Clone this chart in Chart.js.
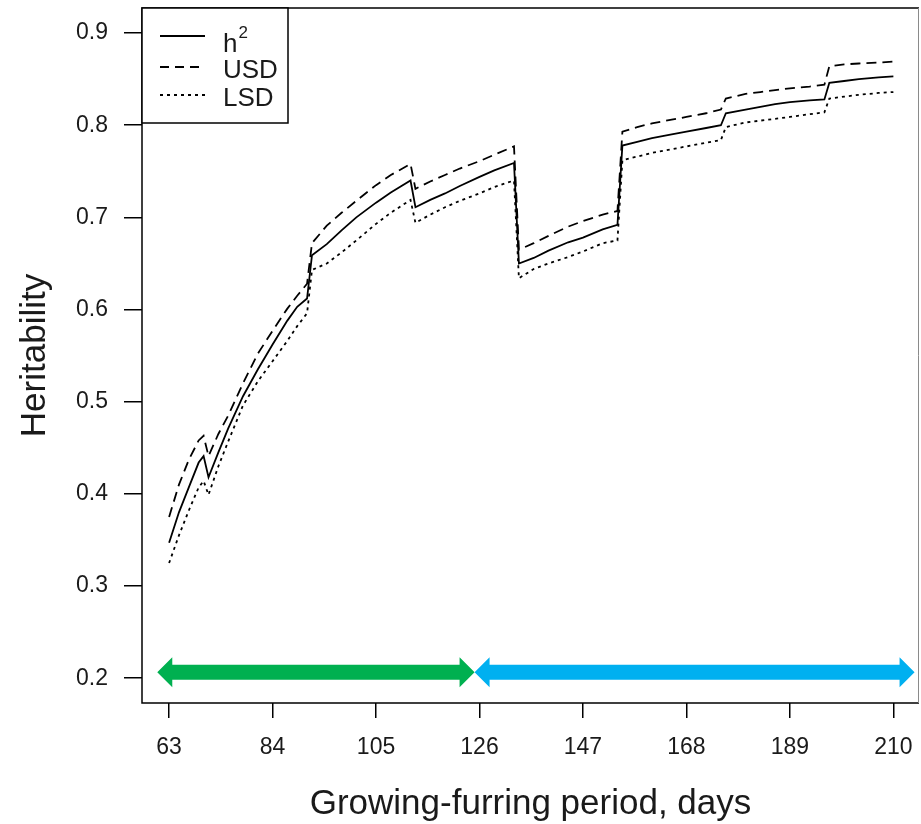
<!DOCTYPE html>
<html>
<head>
<meta charset="utf-8">
<script src="https://cdn.jsdelivr.net/npm/chart.js@4.4.0/dist/chart.umd.min.js"></script>
<style>
  html, body { margin: 0; padding: 0; background: #ffffff; }
  canvas { display: block; }
</style>
</head>
<body>
<canvas id="c" width="921" height="824"></canvas>
<script>
// ---- data ----
const days = [63,65,67,69,70,71,73,75,78,81,84,87,89,91,92,95,98,101,105,108,112,113,116,119,122,126,129,133,134,137,140,144,147,151,154,155,158,161,165,168,172,175,176,180,183,186,189,193,196,197,200,203,207,210];
const h2 = [0.347,0.380,0.407,0.434,0.441,0.418,0.445,0.471,0.506,0.535,0.562,0.588,0.603,0.612,0.659,0.671,0.686,0.700,0.716,0.727,0.740,0.711,0.719,0.726,0.734,0.744,0.751,0.759,0.650,0.656,0.664,0.673,0.678,0.687,0.692,0.778,0.782,0.786,0.790,0.793,0.797,0.800,0.813,0.817,0.820,0.823,0.825,0.827,0.828,0.846,0.848,0.850,0.852,0.853];
const usd = [0.375,0.410,0.437,0.458,0.463,0.441,0.465,0.485,0.520,0.552,0.577,0.601,0.615,0.628,0.672,0.691,0.705,0.718,0.735,0.746,0.758,0.731,0.739,0.746,0.753,0.761,0.768,0.777,0.665,0.672,0.680,0.690,0.696,0.703,0.707,0.793,0.798,0.802,0.806,0.809,0.813,0.817,0.829,0.834,0.836,0.838,0.840,0.842,0.844,0.864,0.866,0.867,0.868,0.869];
const lsd = [0.325,0.355,0.382,0.407,0.414,0.399,0.430,0.457,0.496,0.522,0.544,0.566,0.582,0.596,0.643,0.650,0.662,0.675,0.693,0.705,0.719,0.694,0.703,0.711,0.718,0.726,0.733,0.740,0.634,0.644,0.650,0.657,0.663,0.672,0.675,0.762,0.766,0.770,0.774,0.777,0.781,0.784,0.798,0.803,0.805,0.807,0.809,0.812,0.814,0.829,0.831,0.833,0.835,0.836];
const xTicks = [63,84,105,126,147,168,189,210];
const yTicks = [0.2,0.3,0.4,0.5,0.6,0.7,0.8,0.9];
const seriesNames = ["h", "USD", "LSD"];
const xTitle = "Growing-furring period, days";
const yTitle = "Heritability";
// arrows along the bottom: [from day, to day, level]
const greenArrow = [60.6, 125.0, 0.2065];
const blueArrow = [125.0, 214.3, 0.2065];

const toPts = arr => days.map((d, i) => ({x: d, y: arr[i]}));
const FONT = "'Liberation Sans', Arial, sans-serif";
const INK = "#1a1a1a";

const noPad = s => { s.paddingTop = 0; s.paddingBottom = 0; s.paddingLeft = 0; s.paddingRight = 0; };

const boxPlugin = {
  id: "box",
  afterDatasetsDraw(chart) {
    const ctx = chart.ctx;
    const xs = chart.scales.x, ys = chart.scales.y;
    const drawArrow = (arr, color) => {
      const x1 = xs.getPixelForValue(arr[0]), x2 = xs.getPixelForValue(arr[1]);
      const y = ys.getPixelForValue(arr[2]);
      const hl = 15, hh = 15, sh = 7.5;
      ctx.save();
      ctx.fillStyle = color;
      ctx.beginPath();
      ctx.moveTo(x1, y);
      ctx.lineTo(x1 + hl, y - hh);
      ctx.lineTo(x1 + hl, y - sh);
      ctx.lineTo(x2 - hl, y - sh);
      ctx.lineTo(x2 - hl, y - hh);
      ctx.lineTo(x2, y);
      ctx.lineTo(x2 - hl, y + hh);
      ctx.lineTo(x2 - hl, y + sh);
      ctx.lineTo(x1 + hl, y + sh);
      ctx.lineTo(x1 + hl, y + hh);
      ctx.closePath();
      ctx.fill();
      ctx.restore();
    };
    drawArrow(greenArrow, "#00B050");
    drawArrow(blueArrow, "#00B0F0");
  },
  afterDraw(chart) {
    const ctx = chart.ctx, a = chart.chartArea;
    ctx.save();
    ctx.strokeStyle = "#000";
    ctx.lineWidth = 1.5;
    ctx.beginPath();
    ctx.moveTo(a.right, a.top);
    ctx.lineTo(a.left, a.top);
    ctx.lineTo(a.left, a.bottom);
    ctx.lineTo(a.right, a.bottom);
    ctx.stroke();
    ctx.strokeStyle = "#8a8a8a";
    ctx.lineWidth = 1;
    ctx.beginPath();
    ctx.moveTo(a.right - 0.5, a.top);
    ctx.lineTo(a.right - 0.5, a.bottom);
    ctx.stroke();
    // legend
    const lx = a.left, ly = a.top, lw = 146, lh = 115;
    ctx.fillStyle = "#fff";
    ctx.fillRect(lx, ly, lw, lh);
    ctx.strokeStyle = "#000";
    ctx.lineWidth = 1.5;
    ctx.strokeRect(lx, ly, lw, lh);
    const rows = [
      {y: 36, dash: [], name: seriesNames[0], base: 52},
      {y: 67, dash: [9, 6], name: seriesNames[1], base: 78},
      {y: 95, dash: [3, 4], name: seriesNames[2], base: 106}
    ];
    rows.forEach((r, i) => {
      ctx.setLineDash(r.dash);
      ctx.lineWidth = 1.8;
      ctx.beginPath();
      ctx.moveTo(lx + 18, r.y);
      ctx.lineTo(lx + 63, r.y);
      ctx.stroke();
      ctx.setLineDash([]);
      ctx.fillStyle = INK;
      ctx.textAlign = "left";
      ctx.textBaseline = "alphabetic";
      ctx.font = "26px " + FONT;
      ctx.fillText(r.name, lx + 81, r.base);
      if (i === 0) {
        const w = ctx.measureText(r.name).width;
        ctx.font = "17px " + FONT;
        ctx.fillText("2", lx + 81 + w + 1, 38);
      }
    });
    ctx.restore();
  }
};

new Chart(document.getElementById("c"), {
  type: "line",
  data: {
    datasets: [
      {label: "h2", data: toPts(h2), borderColor: "#000", borderWidth: 1.8, borderDash: [], pointRadius: 0, tension: 0, fill: false},
      {label: "USD", data: toPts(usd), borderColor: "#000", borderWidth: 1.8, borderDash: [10, 6], pointRadius: 0, tension: 0, fill: false},
      {label: "LSD", data: toPts(lsd), borderColor: "#000", borderWidth: 1.8, borderDash: [3, 4], pointRadius: 0, tension: 0, fill: false}
    ]
  },
  options: {
    responsive: false,
    animation: false,
    devicePixelRatio: 1,
    layout: {padding: {top: 8, right: 2, left: 0, bottom: 0}},
    plugins: {legend: {display: false}, tooltip: {enabled: false}},
    scales: {
      x: {
        type: "linear",
        min: 57.5, max: 215.2,
        afterBuildTicks: s => { s.ticks = xTicks.map(v => ({value: v})); },
        afterFit: s => { s.height = 121; noPad(s); },
        ticks: {font: {family: FONT, size: 23}, color: INK, padding: 16, maxRotation: 0, autoSkip: false, callback: v => String(v)},
        grid: {display: true, drawOnChartArea: false, drawTicks: true, tickLength: 15, color: "#000", lineWidth: 1.5},
        border: {display: false},
        title: {display: true, text: xTitle, font: {family: FONT, size: 35, lineHeight: 1}, color: INK, padding: {top: 0, bottom: 2}}
      },
      y: {
        type: "linear",
        min: 0.1731, max: 0.9272,
        afterBuildTicks: s => { s.ticks = yTicks.map(v => ({value: v})); },
        afterFit: s => { s.width = 142; noPad(s); },
        ticks: {font: {family: FONT, size: 23}, color: INK, padding: 16, autoSkip: false, callback: v => v.toFixed(1)},
        grid: {display: true, drawOnChartArea: false, drawTicks: true, tickLength: 18, color: "#000", lineWidth: 1.5},
        border: {display: false},
        title: {display: true, text: yTitle, font: {family: FONT, size: 35, lineHeight: 1}, color: INK, padding: {top: 18, bottom: 0}}
      }
    }
  },
  plugins: [boxPlugin]
});
</script>
</body>
</html>
